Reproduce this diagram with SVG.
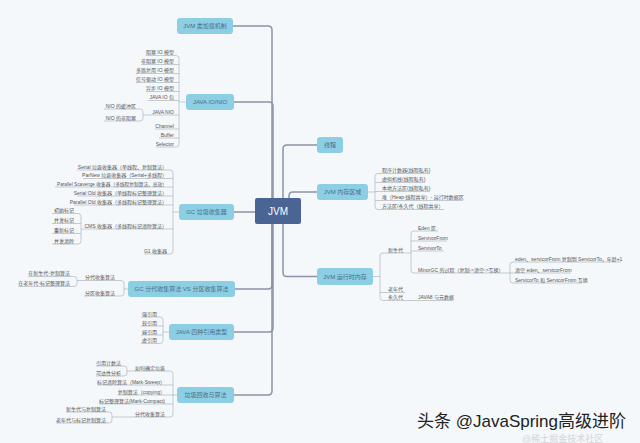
<svg xmlns="http://www.w3.org/2000/svg" width="640" height="443" viewBox="0 0 640 443">
<style>
text{font-family:"Liberation Sans","Noto Sans CJK SC",sans-serif}
.n{fill:#8ccfe5}
.nt{font-size:6px;fill:#4f6d80;text-anchor:middle}
.c{stroke:#8b94a6;stroke-width:1.5;fill:none}
.l{stroke:#a3abb6;stroke-width:0.6;fill:none}
.t{font-size:5px;fill:#555}
.e{text-anchor:end}
</style>
<rect width="640" height="443" fill="#f4f8fb"/>
<g id="connectors">
<path class="c" d="M233,26 H268 Q272,26 272,30 V198"/>
<path class="c" d="M234,102 H269 Q273,102 273,106 V198"/>
<path class="c" d="M234,212 H255"/>
<path class="c" d="M235,289 H268 Q272,289 272,285 V224"/>
<path class="c" d="M234,332 H269 Q273,332 273,328 V224"/>
<path class="c" d="M234,395 H268 Q272,395 272,391 V224"/>
<path class="c" d="M317,145 H287 Q283,145 283,149 V198"/>
<path class="c" d="M317,192 H293 Q289,192 289,196 V198"/>
<path class="c" d="M317,276.5 H287 Q283,276.5 283,272.5 V224"/>
<path class="l" d="M146,55.5 H176 Q179,55.5 179,58.5 V144 Q179,147 176,147 H156 M141,64.5 H179 M136,73.5 H179 M136,82.5 H179 M146,91.5 H179 M148,100.5 H179 M143,115 H179 M155,129 H179 M159,138 H179 M186,102 H179"/>
<path class="l" d="M104,109 H140 Q143,109 143,112 V118 Q143,121 140,121 H104"/>
<path class="l" d="M77,170 H170 Q173,170 173,173 V251 Q173,254 170,254 H144 M83,178.5 H173 M55,187 H173 M77,196 H173 M74,205 H173 M81,229 H173 M179,212 H173"/>
<path class="l" d="M52,213.5 H78 Q81,213.5 81,216.5 V241 Q81,244 78,244 H52 M52,223.5 H81 M52,233.5 H81"/>
<path class="l" d="M77,280.5 H121 Q124,280.5 124,283.5 V293 Q124,296 121,296 H84 M128,289 H124"/>
<path class="l" d="M28,276.5 H74 Q77,276.5 77,279.5 V283.5 Q77,286.5 74,286.5 H18"/>
<path class="l" d="M141,317 H160 Q163,317 163,320 V340.5 Q163,343.5 160,343.5 H141 M141,326 H163 M141,335 H163 M169,332 H163"/>
<path class="l" d="M127,371 H170 Q173,371 173,374 V414 Q173,417 170,417 H112 M97,385 H173 M118,395 H173 M99,404 H173 M177,395 H173"/>
<path class="l" d="M96,366 H124 Q127,366 127,369 V373 Q127,376 124,376 H96"/>
<path class="l" d="M66,412 H109 Q112,412 112,415 V420 Q112,423 109,423 H56"/>
<path class="l" d="M430,173.5 H378 Q375,173.5 375,176.5 V206.5 Q375,209.5 378,209.5 H444 M375,182.5 H425 M375,191.5 H430 M375,200.5 H463 M368,192 H375"/>
<path class="l" d="M411,253 H383 Q380,253 380,256 V297.5 Q380,300.5 383,300.5 H453 M380,292.5 H405 M373,276.5 H380"/>
<path class="l" d="M438,231 H414 Q411,231 411,234 V270 Q411,273 414,273 H510 M411,241 H447 M411,251 H444"/>
<path class="l" d="M621,262 H513 Q510,262 510,265 V280 Q510,283 513,283 H582 M510,273 H571"/>
</g>
<g id="jvm"><rect x="255" y="198" width="46" height="26" rx="2" fill="#4a6593"/><text x="278" y="215" font-size="10" fill="#fff" text-anchor="middle">JVM</text></g>
<g id="classload"><rect class="n" x="177" y="18" width="56" height="16" rx="3"/><text class="nt" x="205" y="28">JVM 类加载机制</text></g>
<g id="ionio"><rect class="n" x="186" y="94" width="48" height="16" rx="3"/><text class="nt" x="210" y="104">JAVA IO/NIO</text></g>
<g id="gc"><rect class="n" x="179" y="204" width="55" height="16" rx="3"/><text class="nt" x="206.5" y="214">GC 垃圾收集器</text></g>
<g id="gcalg"><rect class="n" x="128" y="281" width="107" height="16" rx="3"/><text class="nt" x="181.5" y="291">GC 分代收集算法 VS 分区收集算法</text></g>
<g id="ref"><rect class="n" x="169" y="324" width="65" height="16" rx="3"/><text class="nt" x="201.5" y="334">JAVA 四种引用类型</text></g>
<g id="gcrec"><rect class="n" x="177" y="387" width="57" height="16" rx="3"/><text class="nt" x="205.5" y="397">垃圾回收与算法</text></g>
<g id="thread"><rect class="n" x="317" y="137" width="26" height="16" rx="3"/><text class="nt" x="330" y="147">线程</text></g>
<g id="memarea"><rect class="n" x="317" y="184" width="51" height="16" rx="3"/><text class="nt" x="342.5" y="194">JVM 内存区域</text></g>
<g id="runtime"><rect class="n" x="317" y="268" width="56" height="17" rx="3"/><text class="nt" x="345" y="278.5">JVM 运行时内存</text></g>
<g id="io-kids">
<g id="io1"><text class="t e" x="174" y="54.2">阻塞 IO 模型</text></g>
<g id="io2"><text class="t e" x="174" y="63.2">非阻塞 IO 模型</text></g>
<g id="io3"><text class="t e" x="174" y="72.2">多路复用 IO 模型</text></g>
<g id="io4"><text class="t e" x="174" y="81.2">信号驱动 IO 模型</text></g>
<g id="io5"><text class="t e" x="174" y="90.2">异步 IO 模型</text></g>
<g id="io6"><text class="t e" x="174" y="99.2">JAVA IO 包</text></g>
<g id="io7"><text class="t e" x="174" y="113.7">JAVA NIO</text></g>
<g id="io8"><text class="t e" x="174" y="127.7">Channel</text></g>
<g id="io9"><text class="t e" x="174" y="136.7">Buffer</text></g>
<g id="io10"><text class="t e" x="174" y="145.7">Selector</text></g>
<g id="nio1"><text class="t e" x="136" y="107.7">NIO 的缓冲区</text></g>
<g id="nio2"><text class="t e" x="136" y="119.7">NIO 的非阻塞</text></g>
</g>
<g id="gc-kids">
<g id="gc1"><text class="t e" x="167" y="168.7">Serial 垃圾收集器（单线程、复制算法）</text></g>
<g id="gc2"><text class="t e" x="167" y="177.2">ParNew 垃圾收集器（Serial+多线程）</text></g>
<g id="gc3"><text class="t e" x="167" y="185.7" textLength="110" lengthAdjust="spacingAndGlyphs">Parallel Scavenge 收集器（多线程复制算法、高效）</text></g>
<g id="gc4"><text class="t e" x="167" y="194.7">Serial Old 收集器（单线程标记整理算法）</text></g>
<g id="gc5"><text class="t e" x="167" y="203.7">Parallel Old 收集器（多线程标记整理算法）</text></g>
<g id="gc6"><text class="t e" x="167" y="227.7">CMS 收集器（多线程标记清除算法）</text></g>
<g id="gc7"><text class="t e" x="167" y="252.7">G1 收集器</text></g>
<g id="cms1"><text class="t e" x="74" y="212.2">初始标记</text></g>
<g id="cms2"><text class="t e" x="74" y="222.2">并发标记</text></g>
<g id="cms3"><text class="t e" x="74" y="232.2">重新标记</text></g>
<g id="cms4"><text class="t e" x="74" y="242.7">并发清除</text></g>
</g>
<g id="alg-kids">
<g id="alg1"><text class="t e" x="115" y="279.2">分代收集算法</text></g>
<g id="alg2"><text class="t e" x="115" y="294.7">分区收集算法</text></g>
<g id="alg3"><text class="t e" x="70" y="275.2">在新生代-复制算法</text></g>
<g id="alg4"><text class="t e" x="70" y="285.2">在老年代-标记整理算法</text></g>
</g>
<g id="ref-kids">
<g id="ref1"><text class="t e" x="157" y="315.7">强引用</text></g>
<g id="ref2"><text class="t e" x="157" y="324.7">软引用</text></g>
<g id="ref3"><text class="t e" x="157" y="333.7">弱引用</text></g>
<g id="ref4"><text class="t e" x="157" y="342.2">虚引用</text></g>
</g>
<g id="rec-kids">
<g id="rec1"><text class="t e" x="165" y="369.7">如何确定垃圾</text></g>
<g id="rec2"><text class="t e" x="165" y="383.7">标记清除算法（Mark-Sweep）</text></g>
<g id="rec3"><text class="t e" x="165" y="393.7">复制算法（copying）</text></g>
<g id="rec4"><text class="t e" x="165" y="402.7">标记整理算法(Mark-Compact)</text></g>
<g id="rec5"><text class="t e" x="165" y="415.7">分代收集算法</text></g>
<g id="rec6"><text class="t e" x="121" y="364.7">引用计数法</text></g>
<g id="rec7"><text class="t e" x="121" y="374.7">可达性分析</text></g>
<g id="rec8"><text class="t e" x="106" y="410.7">新生代与复制算法</text></g>
<g id="rec9"><text class="t e" x="106" y="421.7">老年代与标记复制算法</text></g>
</g>
<g id="mem-kids">
<g id="mem1"><text class="t" x="382" y="172.2">程序计数器(线程私有)</text></g>
<g id="mem2"><text class="t" x="382" y="181.2">虚拟机栈(线程私有)</text></g>
<g id="mem3"><text class="t" x="382" y="190.2">本地方法区(线程私有)</text></g>
<g id="mem4"><text class="t" x="382" y="199.2">堆（Heap-线程共享）- 运行时数据区</text></g>
<g id="mem5"><text class="t" x="382" y="208.2">方法区/永久代（线程共享）</text></g>
</g>
<g id="rt-kids">
<g id="rt1"><text class="t" x="388" y="251.7">新生代</text></g>
<g id="rt2"><text class="t" x="388" y="291.2">老年代</text></g>
<g id="rt3"><text class="t" x="388" y="299.2">永久代</text></g>
<g id="rt4"><text class="t" x="418" y="299.2">JAVA8 与元数据</text></g>
<g id="rt5"><text class="t" x="418" y="229.7">Eden 区</text></g>
<g id="rt6"><text class="t" x="418" y="239.7">ServivorFrom</text></g>
<g id="rt7"><text class="t" x="418" y="249.7">ServivorTo</text></g>
<g id="rt8"><text class="t" x="418" y="271.7">MinorGC 的过程（复制-&gt;清空-&gt;互换）</text></g>
<g id="rt9"><text class="t" x="515" y="260.7">eden、servicorFrom 复制到 ServicorTo，年龄+1</text></g>
<g id="rt10"><text class="t" x="515" y="271.7">清空 eden、servicorFrom</text></g>
<g id="rt11"><text class="t" x="515" y="281.7">ServicorTo 和 ServicorFrom 互换</text></g>
</g>
<g id="watermark">
<text x="522" y="441.5" font-size="9" fill="#c9cdd2" opacity="0.8">@稀土掘金技术社区</text>
<text x="417" y="427" font-size="17" fill="#222">头条 @JavaSpring高级进阶</text>
</g>
</svg>
